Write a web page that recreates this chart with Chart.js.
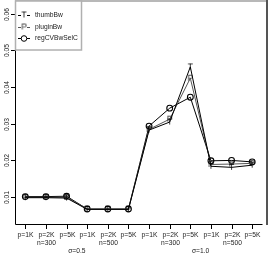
<!DOCTYPE html>
<html>
<head>
<meta charset="utf-8">
<script src="https://cdn.jsdelivr.net/npm/chart.js@4"></script>
<style>
  html, body { margin: 0; padding: 0; background: #fff; }
  #wrap { width: 268px; height: 255px; }
</style>
</head>
<body>
<div id="wrap"><canvas id="chart" width="268" height="255"></canvas></div>
<script>
// category labels (p on first line, n under the middle one of each group)
const pLabels = ['p=1K', 'p=2K', 'p=5K', 'p=1K', 'p=2K', 'p=5K', 'p=1K', 'p=2K', 'p=5K', 'p=1K', 'p=2K', 'p=5K'];
const nLabels = ['', 'n=300', '', '', 'n=500', '', '', 'n=300', '', '', 'n=500', ''];
const sigmaLabels = ['σ=0.5', 'σ=1.0'];
const sigmaAt = [2.5, 8.5];  // between 3rd/4th and 9th/10th ticks
const yTicks = [0.01, 0.02, 0.03, 0.04, 0.05, 0.06];

// series values
const thumbBw = [0.0097, 0.0097, 0.0096, 0.0065, 0.0065, 0.0065, 0.0282, 0.0304, 0.0455, 0.0183, 0.0180, 0.0186];
const pluginBw = [0.0098, 0.0098, 0.0098, 0.0066, 0.0066, 0.0066, 0.0284, 0.0312, 0.0424, 0.0188, 0.0189, 0.0191];
const regCVBwSelC = [0.0100, 0.0100, 0.0101, 0.0066, 0.0066, 0.0066, 0.0293, 0.0342, 0.0372, 0.0198, 0.0199, 0.0195];

const FONT = '6.7px "Liberation Sans", Arial, sans-serif';

// letter markers like R's pch="T" / pch="P"
function letterMarker(ch, color) {
    const c = document.createElement('canvas');
    c.width = 9; c.height = 9;
    const g = c.getContext('2d');
    g.fillStyle = color;
    g.font = '8.5px "Liberation Sans", Arial, sans-serif';
    g.textAlign = 'center';
    g.textBaseline = 'middle';
    g.fillText(ch, 4.5, 5);
    return c;
}
const tMark = letterMarker('T', '#000');
const pMark = letterMarker('P', '#222');

// axes, ticks, legend and frame drawn R-style from the scales
const rAxes = {
    id: 'rAxes',
    afterDraw(chart) {
        const ctx = chart.ctx;
        const x = chart.scales.x, y = chart.scales.y;
        const a = chart.chartArea;
        ctx.save();
        ctx.strokeStyle = '#000';
        ctx.lineWidth = 1;
        // L-shaped box
        ctx.beginPath();
        ctx.moveTo(a.left + 0.5, a.top);
        ctx.lineTo(a.left + 0.5, a.bottom + 0.5);
        ctx.lineTo(a.right, a.bottom + 0.5);
        ctx.stroke();
        // frame bits at top and right
        ctx.strokeStyle = '#b8b8b8';
        ctx.lineWidth = 2;
        ctx.beginPath();
        ctx.moveTo(a.left, 1);
        ctx.lineTo(268, 1);
        ctx.stroke();
        ctx.strokeStyle = '#555';
        ctx.beginPath();
        ctx.moveTo(267, 0);
        ctx.lineTo(267, a.bottom + 1);
        ctx.stroke();

        ctx.strokeStyle = '#000';
        ctx.lineWidth = 1;
        ctx.fillStyle = '#222';
        ctx.font = FONT;
        // x ticks and labels
        ctx.textAlign = 'center';
        ctx.textBaseline = 'middle';
        pLabels.forEach((lab, i) => {
            const px = Math.round(x.getPixelForValue(i)) + 0.5;
            ctx.beginPath();
            ctx.moveTo(px, a.bottom + 1);
            ctx.lineTo(px, a.bottom + 5);
            ctx.stroke();
            ctx.fillText(lab, px, a.bottom + 11);
            if (nLabels[i]) ctx.fillText(nLabels[i], px, a.bottom + 19);
        });
        sigmaLabels.forEach((lab, i) => {
            ctx.fillText(lab, x.getPixelForValue(sigmaAt[i]), a.bottom + 27);
        });
        // y ticks and rotated labels
        yTicks.forEach(v => {
            const py = Math.round(y.getPixelForValue(v)) + 0.5;
            ctx.beginPath();
            ctx.moveTo(a.left - 4, py);
            ctx.lineTo(a.left, py);
            ctx.stroke();
            ctx.save();
            ctx.translate(a.left - 8, py);
            ctx.rotate(-Math.PI / 2);
            ctx.fillText(v.toFixed(2), 0, 0);
            ctx.restore();
        });

        // legend box
        const lx = a.left, ly = 1, lw = 66, lh = 49;
        ctx.fillStyle = '#fff';
        ctx.fillRect(lx + 1, ly, lw - 1, lh);
        ctx.strokeStyle = '#b0b0b0';
        ctx.lineWidth = 1.5;
        ctx.strokeRect(lx + 0.5, ly, lw, lh);
        const rows = [15, 27, 38];
        chart.data.datasets.forEach((ds, i) => {
            const ry = rows[i] + 0.5;
            ctx.strokeStyle = ds.borderColor;
            ctx.lineWidth = 1;
            ctx.beginPath();
            ctx.moveTo(lx + 3, ry);
            ctx.lineTo(lx + 15, ry);
            ctx.stroke();
            if (ds.pointStyle === 'circle') {
                ctx.fillStyle = '#fff';
                ctx.beginPath();
                ctx.arc(lx + 9, ry, 2.8, 0, Math.PI * 2);
                ctx.fill();
                ctx.stroke();
            } else {
                ctx.fillStyle = '#fff';
                ctx.fillRect(lx + 6, ry - 3, 6, 6);
                ctx.drawImage(ds.pointStyle, lx + 4.5, ry - 5);
            }
            ctx.fillStyle = '#222';
            ctx.textAlign = 'left';
            ctx.fillText(ds.label, lx + 20, ry);
        });
        ctx.restore();
    }
};

new Chart(document.getElementById('chart'), {
    type: 'line',
    data: {
        labels: pLabels,
        datasets: [
            {
                label: 'thumbBw',
                data: thumbBw,
                borderColor: '#000',
                borderWidth: 1,
                pointStyle: tMark,
                pointRadius: 4.5,
                tension: 0
            },
            {
                label: 'pluginBw',
                data: pluginBw,
                borderColor: '#555',
                borderWidth: 1,
                pointStyle: pMark,
                pointRadius: 4.5,
                tension: 0
            },
            {
                label: 'regCVBwSelC',
                data: regCVBwSelC,
                borderColor: '#000',
                borderWidth: 1,
                pointStyle: 'circle',
                pointRadius: 2.9,
                pointBorderWidth: 1.1,
                pointBorderColor: '#000',
                pointBackgroundColor: 'rgba(255,255,255,0)',
                tension: 0
            }
        ]
    },
    options: {
        responsive: false,
        animation: false,
        layout: { padding: { left: 15, top: 1, right: 2, bottom: 31 } },
        plugins: {
            legend: { display: false },
            tooltip: { enabled: false }
        },
        scales: {
            x: { type: 'category', offset: true, display: false },
            y: { type: 'linear', min: 0.0025, max: 0.0623, display: false }
        }
    },
    plugins: [rAxes]
});
</script>
</body>
</html>
